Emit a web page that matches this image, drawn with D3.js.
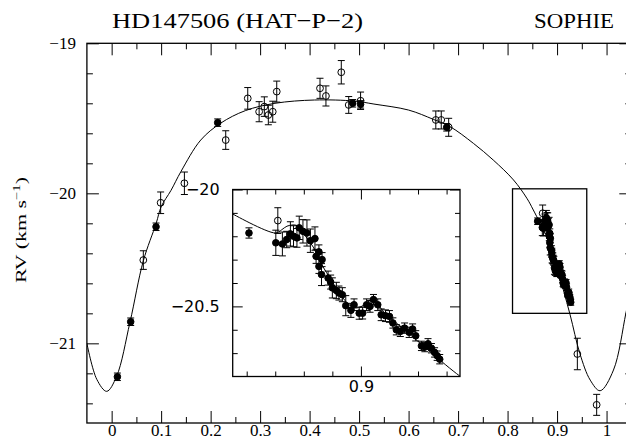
<!DOCTYPE html>
<html lang="en">
<head>
<meta charset="utf-8">
<title>HD147506 (HAT-P-2) SOPHIE</title>
<script src="https://cdn.jsdelivr.net/npm/d3@7"></script>
<style>
  body { margin: 0; background: #fff; }
  .main .tick text { font-family: "Liberation Serif", serif; font-size: 17px; fill: #000; }
  .inset .tick text { font-family: "DejaVu Sans", sans-serif; font-size: 16px; fill: #000; }
  .tick line { stroke: #000; stroke-width: 1; }
</style>
</head>
<body>
<div id="chart"></div>
<script>

// orbital model (phase, RV km/s)
var curvePhase = [-0.05, -0.03, -0.01, 0.01, 0.037, 0.064, 0.09, 0.10, 0.12, 0.14, 0.18, 0.22, 0.27, 0.33,
  0.41, 0.49, 0.53, 0.60, 0.65, 0.684, 0.731, 0.771, 0.812, 0.839, 0.852, 0.88, 0.90, 0.926, 0.946, 0.967,
  0.987, 1.014, 1.039, 1.05];
var curveRv = [-21.00, -21.24, -21.32, -21.22, -20.86, -20.45, -20.20, -20.09, -19.98, -19.855, -19.645,
  -19.533, -19.449, -19.40, -19.378, -19.385, -19.405, -19.445, -19.507, -19.556, -19.667, -19.778, -19.911,
  -20.033, -20.111, -20.30, -20.50, -20.805, -21.067, -21.245, -21.316, -21.178, -20.80, -20.62];

// model with the Rossiter-McLaughlin anomaly (inset)
var rmCurvePhase = [0.8544, 0.8700, 0.8723, 0.8741, 0.8776, 0.8806, 0.8835, 0.8853, 0.8888, 0.8917, 0.8953,
  0.8982, 0.9018, 0.9041, 0.9065, 0.9088, 0.9124, 0.9345, 0.9400];
var rmCurveRv = [-20.100, -20.186, -20.172, -20.157, -20.154, -20.200, -20.250, -20.300, -20.372, -20.429,
  -20.486, -20.507, -20.489, -20.466, -20.500, -20.536, -20.571, -20.797, -20.840];

// open symbols
var openPhase = [0.064, 0.099, 0.147, 0.2305, 0.275, 0.298, 0.3085, 0.3166, 0.3255, 0.3336, 0.421, 0.433,
  0.464, 0.479, 0.503, 0.655, 0.666, 0.681, 0.8709, 0.941, 0.980];
var openRv = [-20.445, -20.063, -19.933, -19.645, -19.367, -19.456, -19.422, -19.478, -19.456, -19.322, -19.300,
  -19.351, -19.193, -19.411, -19.383, -19.511, -19.511, -19.560, -20.133, -21.071, -21.410];
var openErr = [0.062, 0.072, 0.075, 0.062, 0.072, 0.067, 0.065, 0.065, 0.070, 0.070, 0.067, 0.067,
  0.078, 0.056, 0.058, 0.060, 0.060, 0.060, 0.055, 0.105, 0.070];

// filled symbols, orbit
var filledPhase = [0.0116, 0.0385, 0.0897, 0.2143, 0.487, 0.503, 0.677];
var filledRv = [-21.223, -20.856, -20.223, -19.529, -19.400, -19.407, -19.560];
var filledErr = [0.025, 0.025, 0.025, 0.025, 0.025, 0.025, 0.025];

// filled symbols, transit night
var transitPhase = [0.8608, 0.8702, 0.8725, 0.8740, 0.8753, 0.8764, 0.8776, 0.8784, 0.8797, 0.8811, 0.8823,
  0.8839, 0.8843, 0.8853, 0.8853, 0.8864, 0.8862, 0.8885, 0.8894, 0.8900, 0.8914, 0.8923, 0.8935, 0.8947,
  0.8965, 0.8976, 0.8994, 0.9006, 0.9020, 0.9032, 0.9044, 0.9059, 0.9071, 0.9086, 0.9100, 0.9112, 0.9124,
  0.9138, 0.9153, 0.9169, 0.9181, 0.9192, 0.9212, 0.9224, 0.9235, 0.9247, 0.9258, 0.9267, 0.9276];
var transitRv = [-20.186, -20.228, -20.233, -20.214, -20.190, -20.200, -20.207, -20.164, -20.179, -20.186,
  -20.219, -20.210, -20.286, -20.267, -20.329, -20.300, -20.364, -20.379, -20.396, -20.421, -20.432, -20.443,
  -20.450, -20.497, -20.517, -20.493, -20.529, -20.529, -20.493, -20.500, -20.471, -20.493, -20.536, -20.540,
  -20.543, -20.571, -20.600, -20.607, -20.593, -20.611, -20.597, -20.626, -20.669, -20.674, -20.660, -20.679,
  -20.697, -20.711, -20.726];
var transitErr = [0.022, 0.054, 0.051, 0.035, 0.052, 0.045, 0.040, 0.050, 0.050, 0.056, 0.050,
  0.050, 0.030, 0.030, 0.030, 0.030, 0.047, 0.030, 0.030, 0.043, 0.035, 0.030, 0.030, 0.043,
  0.030, 0.025, 0.026, 0.025, 0.025, 0.025, 0.022, 0.025, 0.025, 0.025, 0.025, 0.022, 0.022,
  0.022, 0.022, 0.022, 0.022, 0.022, 0.020, 0.020, 0.022, 0.020, 0.020, 0.020, 0.020];

// ticks
var xMajor = [0, 0.1, 0.2, 0.3, 0.4, 0.5, 0.6, 0.7, 0.8, 0.9, 1];
var xMinor = [0.05, 0.15, 0.25, 0.35, 0.45, 0.55, 0.65, 0.75, 0.85, 0.95];
var yMajor = [-19, -20, -21];
var yMinor = [-19.2, -19.4, -19.6, -19.8, -20.2, -20.4, -20.6, -20.8, -21.2, -21.4];
var insetXMajor = [0.9];
var insetXMinor = [0.86, 0.87, 0.88, 0.89, 0.91, 0.92, 0.93];
var insetYMajor = [-20, -20.5];
var insetYMinor = [-20.1, -20.2, -20.3, -20.4, -20.6, -20.7];
var zoomBox = {x0: 0.81, x1: 0.96, y0: -20.8, y1: -19.97};

var w = 626, h = 441;

var svg = d3.select("#chart").append("svg")
    .attr("width", w)
    .attr("height", h)
    .style("display", "block");

svg.append("rect").attr("width", w).attr("height", h).attr("fill", "#fff");

var x = d3.scaleLinear().domain([-0.05, 1.05]).range([86.9, 631.3]);
var y = d3.scaleLinear().domain([-21.531, -19]).range([423, 43.3]);

var xi = d3.scaleLinear().domain([0.8551, 0.9347]).range([232.7, 460]);
var yi = d3.scaleLinear().domain([-20.8, -20]).range([376.5, 189.5]);

var fmt = d => d3.format("~g")(d);

function frameAxes(g, xs, ys, t) {
  var x0 = xs.range()[0], x1 = xs.range()[1];
  var y0 = ys.range()[1], y1 = ys.range()[0];
  var kill = sel => sel.select(".domain").remove();

  g.append("g").attr("transform", `translate(0,${y1})`)
    .call(d3.axisBottom(xs).tickValues(t.xMajor).tickSize(-t.big).tickPadding(t.xPad).tickFormat(fmt)).call(kill);
  g.append("g").attr("transform", `translate(0,${y1})`)
    .call(d3.axisBottom(xs).tickValues(t.xMinor).tickSize(-t.small).tickFormat("")).call(kill);
  g.append("g").attr("transform", `translate(0,${y0})`)
    .call(d3.axisTop(xs).tickValues(t.xMajor).tickSize(-t.big).tickFormat("")).call(kill);
  g.append("g").attr("transform", `translate(0,${y0})`)
    .call(d3.axisTop(xs).tickValues(t.xMinor).tickSize(-t.small).tickFormat("")).call(kill);

  g.append("g").attr("transform", `translate(${x0},0)`)
    .call(d3.axisLeft(ys).tickValues(t.yMajor).tickSize(-t.big).tickPadding(t.yPad).tickFormat(fmt)).call(kill);
  g.append("g").attr("transform", `translate(${x0},0)`)
    .call(d3.axisLeft(ys).tickValues(t.yMinor).tickSize(-t.small).tickFormat("")).call(kill);
  g.append("g").attr("transform", `translate(${x1},0)`)
    .call(d3.axisRight(ys).tickValues(t.yMajor).tickSize(-t.big).tickFormat("")).call(kill);
  g.append("g").attr("transform", `translate(${x1},0)`)
    .call(d3.axisRight(ys).tickValues(t.yMinor).tickSize(-t.small).tickFormat("")).call(kill);

  g.selectAll(".tick text").attr("fill", "#000");
}

function drawPoints(g, xs, ys, ph, rv, err, open) {
  var pts = ph.map((p, i) => ({p: p, v: rv[i], e: err[i]}));
  var cap = 3.5;
  var eb = g.append("g").attr("stroke", "#000").attr("stroke-width", 1);
  pts.forEach(function(d) {
    var cx = xs(d.p), top = ys(d.v + d.e), bot = ys(d.v - d.e);
    eb.append("line").attr("x1", cx).attr("x2", cx).attr("y1", top).attr("y2", bot);
    eb.append("line").attr("x1", cx - cap).attr("x2", cx + cap).attr("y1", top).attr("y2", top);
    eb.append("line").attr("x1", cx - cap).attr("x2", cx + cap).attr("y1", bot).attr("y2", bot);
  });
  g.append("g").selectAll("circle").data(pts).enter().append("circle")
    .attr("cx", d => xs(d.p))
    .attr("cy", d => ys(d.v))
    .attr("r", open ? 3.4 : 3.3)
    .attr("fill", open ? "none" : "#000")
    .attr("stroke", "#000")
    .attr("stroke-width", 1);
}

var line = (xs, ys) => d3.line().x(d => xs(d[0])).y(d => ys(d[1])).curve(d3.curveCatmullRom.alpha(0.5));

// ---------- main panel ----------
var main = svg.append("g").attr("class", "main");

svg.append("clipPath").attr("id", "clipMain").append("rect")
  .attr("x", x.range()[0]).attr("y", y.range()[1])
  .attr("width", x.range()[1] - x.range()[0]).attr("height", y.range()[0] - y.range()[1]);

var mainData = main.append("g").attr("clip-path", "url(#clipMain)");

mainData.append("path")
  .datum(curvePhase.map((p, i) => [p, curveRv[i]]))
  .attr("d", line(x, y))
  .attr("fill", "none")
  .attr("stroke", "#000")
  .attr("stroke-width", 1);

drawPoints(mainData, x, y, filledPhase, filledRv, filledErr, false);
drawPoints(mainData, x, y, transitPhase, transitRv, transitErr, false);
drawPoints(mainData, x, y, openPhase, openRv, openErr, true);

main.append("rect")
  .attr("x", x(zoomBox.x0)).attr("y", y(zoomBox.y1))
  .attr("width", x(zoomBox.x1) - x(zoomBox.x0)).attr("height", y(zoomBox.y0) - y(zoomBox.y1))
  .attr("fill", "none").attr("stroke", "#000").attr("stroke-width", 1.3);

frameAxes(main, x, y, {xMajor: xMajor, xMinor: xMinor, yMajor: yMajor, yMinor: yMinor,
  big: 12, small: 6, xPad: 1, yPad: 11});

main.append("rect")
  .attr("x", x.range()[0]).attr("y", y.range()[1])
  .attr("width", x.range()[1] - x.range()[0]).attr("height", y.range()[0] - y.range()[1])
  .attr("fill", "none").attr("stroke", "#000").attr("stroke-width", 1.3);

// ---------- inset ----------
var inset = svg.append("g").attr("class", "inset");

inset.append("rect")
  .attr("x", xi.range()[0]).attr("y", yi.range()[1])
  .attr("width", xi.range()[1] - xi.range()[0]).attr("height", yi.range()[0] - yi.range()[1])
  .attr("fill", "#fff");

svg.append("clipPath").attr("id", "clipInset").append("rect")
  .attr("x", xi.range()[0]).attr("y", yi.range()[1])
  .attr("width", xi.range()[1] - xi.range()[0]).attr("height", yi.range()[0] - yi.range()[1]);

var insetData = inset.append("g").attr("clip-path", "url(#clipInset)");

insetData.append("path")
  .datum(rmCurvePhase.map((p, i) => [p, rmCurveRv[i]]))
  .attr("d", line(xi, yi))
  .attr("fill", "none")
  .attr("stroke", "#000")
  .attr("stroke-width", 1);

drawPoints(insetData, xi, yi, transitPhase, transitRv, transitErr, false);
drawPoints(insetData, xi, yi, openPhase, openRv, openErr, true);

frameAxes(inset, xi, yi, {xMajor: insetXMajor, xMinor: insetXMinor, yMajor: insetYMajor, yMinor: insetYMinor,
  big: 10, small: 5, xPad: 4, yPad: 13});

inset.append("rect")
  .attr("x", xi.range()[0]).attr("y", yi.range()[1])
  .attr("width", xi.range()[1] - xi.range()[0]).attr("height", yi.range()[0] - yi.range()[1])
  .attr("fill", "none").attr("stroke", "#000").attr("stroke-width", 1.3);

// ---------- titles ----------
svg.append("text")
  .attr("x", 112).attr("y", 28)
  .attr("font-family", "Liberation Serif, serif")
  .attr("font-size", 22)
  .attr("textLength", 251).attr("lengthAdjust", "spacingAndGlyphs")
  .text("HD147506 (HAT\u2212P\u22122)");

svg.append("text")
  .attr("x", 534).attr("y", 28)
  .attr("font-family", "Liberation Serif, serif")
  .attr("font-size", 22)
  .attr("textLength", 80).attr("lengthAdjust", "spacingAndGlyphs")
  .text("SOPHIE");

var ylab = svg.append("text")
  .attr("transform", "translate(26,230) rotate(-90)")
  .attr("text-anchor", "middle")
  .attr("font-family", "Liberation Serif, serif")
  .attr("font-size", 15)
  .attr("textLength", 106).attr("lengthAdjust", "spacingAndGlyphs");
ylab.append("tspan").text("RV (km s");
ylab.append("tspan").attr("dy", -6).attr("font-size", 10).text("\u22121");
ylab.append("tspan").attr("dy", 6).text(")");

</script>
</body>
</html>
